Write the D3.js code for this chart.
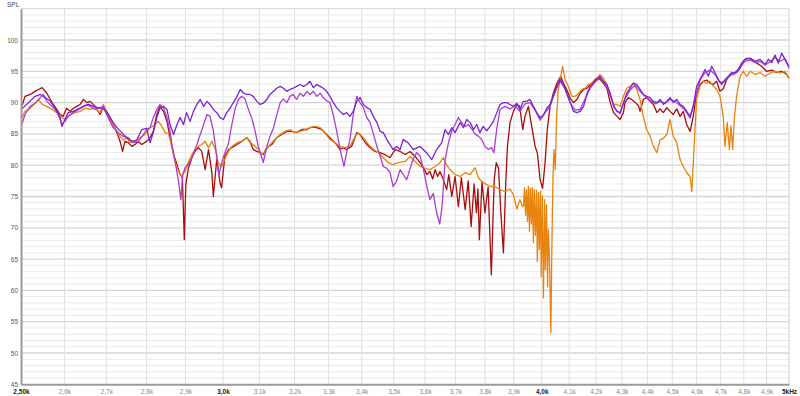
<!DOCTYPE html>
<html>
<head>
<meta charset="utf-8">
<script src="https://cdn.jsdelivr.net/npm/d3@7"></script>
<style>
  body { margin: 0; background: #fff; }
  svg { display: block; font-family: "Liberation Sans", Arial, sans-serif; }
</style>
</head>
<body>
<div id="chart"></div>
<script>
// ---- layout ----
const WIDTH = 800, HEIGHT = 396;
const PLOT_LEFT = 21, PLOT_RIGHT = 789, PLOT_TOP = 8.7, PLOT_BOTTOM = 384.3;

// ---- axes ----
const xTicks = [2500, 2600, 2700, 2800, 2900, 3000, 3100, 3200, 3300, 3400, 3500, 3600, 3700,
  3800, 3900, 4000, 4100, 4200, 4300, 4400, 4500, 4600, 4700, 4800, 4900, 5000];
const xTickLabels = ["2,50k", "2,6k", "2,7k", "2,8k", "2,9k", "3,0k", "3,1k", "3,2k", "3,3k", "3,4k",
  "3,5k", "3,6k", "3,7k", "3,8k", "3,9k", "4,0k", "4,1k", "4,2k", "4,3k", "4,4k", "4,5k", "4,6k",
  "4,7k", "4,8k", "4,9k", "5kHz"];
const xBoldTicks = [2500, 3000, 4000, 5000];
const yTicks = [45, 50, 55, 60, 65, 70, 75, 80, 85, 90, 95, 100];
const yTitle = "SPL";

// ---- data: [frequency Hz, SPL dB] ----
const redTrace = [
  [2502, 89.4], [2509, 91.0], [2521, 91.3], [2532, 91.8], [2540, 92.1], [2548, 92.4], [2559, 91.5],
  [2567, 90.5], [2574, 89.7], [2582, 88.9], [2590, 88.1], [2597, 87.8], [2605, 89.1], [2613, 88.6],
  [2621, 89.1], [2629, 89.4], [2637, 89.7], [2645, 90.5], [2653, 90.0], [2661, 90.2], [2673, 89.4],
  [2685, 88.1], [2693, 89.4], [2701, 88.6], [2709, 87.6], [2717, 86.5], [2726, 85.2], [2734, 83.8],
  [2740, 82.2], [2746, 83.8], [2754, 83.6], [2763, 83.0], [2771, 83.3], [2779, 83.8], [2788, 83.3],
  [2800, 83.8], [2809, 84.4], [2817, 85.4], [2826, 88.1], [2834, 89.4], [2843, 88.6], [2852, 87.0],
  [2860, 84.4], [2869, 81.7], [2878, 80.1], [2886, 78.5], [2892, 78.0], [2897, 68.1], [2901, 76.9],
  [2908, 79.6], [2917, 81.2], [2925, 82.2], [2934, 82.8], [2943, 82.2], [2952, 79.3], [2961, 82.5],
  [2970, 78.8], [2974, 75.0], [2983, 80.9], [2992, 77.2], [2996, 76.4], [3005, 81.4], [3015, 82.5],
  [3024, 82.8], [3038, 83.3], [3051, 83.8], [3065, 84.4], [3074, 83.8], [3083, 82.5], [3093, 82.2],
  [3102, 82.0], [3111, 81.7], [3121, 82.8], [3135, 83.3], [3149, 84.4], [3163, 84.9], [3178, 85.4],
  [3192, 85.4], [3206, 85.2], [3221, 85.7], [3236, 85.7], [3250, 86.1], [3265, 86.0], [3280, 85.7],
  [3294, 84.9], [3309, 84.1], [3324, 83.3], [3334, 82.5], [3344, 82.8], [3354, 82.5], [3369, 83.0],
  [3385, 85.2], [3395, 84.9], [3405, 84.1], [3416, 83.3], [3426, 82.8], [3441, 82.2], [3457, 82.0],
  [3472, 81.7], [3488, 81.2], [3504, 82.5], [3520, 82.2], [3536, 81.7], [3552, 82.2], [3568, 81.4],
  [3584, 80.4], [3595, 79.6], [3606, 78.5], [3616, 79.0], [3625, 77.8], [3633, 79.3], [3641, 78.2],
  [3649, 79.0], [3660, 77.7], [3671, 76.1], [3678, 78.5], [3688, 75.0], [3699, 78.2], [3710, 73.4],
  [3720, 78.0], [3733, 72.9], [3743, 77.5], [3753, 70.2], [3763, 77.0], [3771, 72.4], [3776, 76.2],
  [3781, 68.1], [3790, 77.4], [3800, 72.4], [3811, 76.5], [3822, 62.5], [3832, 77.7], [3839, 80.4],
  [3847, 79.5], [3855, 72.4], [3864, 66.0], [3872, 77.0], [3878, 83.0], [3887, 86.8], [3899, 88.6],
  [3911, 89.7], [3921, 89.4], [3932, 85.7], [3940, 87.8], [3952, 89.4], [3964, 86.2], [3976, 83.0],
  [3984, 82.0], [3994, 77.7], [4003, 76.3], [4012, 80.4], [4020, 85.7], [4030, 89.4], [4042, 91.5],
  [4055, 93.1], [4069, 94.2], [4079, 93.1], [4091, 92.1], [4103, 90.8], [4116, 90.0], [4129, 90.5],
  [4141, 91.5], [4154, 92.1], [4167, 92.3], [4179, 92.9], [4192, 93.4], [4203, 93.9], [4216, 93.7],
  [4229, 93.1], [4242, 92.3], [4255, 90.0], [4268, 88.4], [4281, 87.8], [4293, 87.3], [4306, 88.4],
  [4312, 90.0], [4325, 90.8], [4338, 90.5], [4352, 90.0], [4365, 89.5], [4371, 88.6], [4384, 90.5],
  [4397, 90.8], [4411, 90.2], [4424, 89.7], [4438, 88.4], [4451, 89.0], [4464, 88.4], [4478, 89.2],
  [4491, 88.6], [4504, 88.1], [4518, 89.0], [4532, 87.8], [4545, 88.6], [4559, 86.5], [4573, 85.4],
  [4586, 87.8], [4600, 91.5], [4614, 92.9], [4628, 93.4], [4642, 93.6], [4656, 93.1], [4670, 92.9],
  [4684, 93.4], [4698, 91.8], [4712, 92.2], [4727, 93.7], [4741, 94.5], [4755, 94.8], [4769, 94.8],
  [4784, 95.5], [4798, 96.6], [4813, 97.1], [4835, 96.9], [4857, 96.3], [4878, 95.8], [4900, 95.0],
  [4923, 95.2], [4945, 94.8], [4967, 95.0], [4990, 94.5], [5000, 93.9]
];

const orangeTrace = [
  [2502, 87.6], [2509, 88.6], [2521, 89.1], [2532, 89.9], [2540, 90.5], [2548, 89.7], [2559, 89.4],
  [2571, 88.9], [2582, 88.4], [2594, 87.6], [2601, 87.3], [2613, 88.1], [2625, 88.4], [2637, 88.6],
  [2649, 89.1], [2661, 88.9], [2673, 89.1], [2685, 88.4], [2693, 89.7], [2701, 88.4], [2709, 87.3],
  [2717, 86.5], [2726, 85.4], [2734, 84.6], [2742, 84.0], [2750, 84.4], [2759, 83.6], [2771, 83.8],
  [2783, 84.4], [2796, 84.9], [2809, 86.0], [2822, 86.5], [2830, 87.0], [2839, 86.2], [2847, 85.2],
  [2856, 85.0], [2865, 82.8], [2873, 80.6], [2882, 79.0], [2890, 78.2], [2899, 79.0], [2908, 80.6],
  [2917, 81.7], [2925, 82.5], [2934, 83.0], [2943, 83.3], [2952, 83.8], [2961, 82.8], [2970, 83.8],
  [2979, 82.6], [2987, 80.4], [2996, 79.8], [3005, 81.0], [3015, 82.2], [3024, 83.0], [3038, 83.6],
  [3051, 83.8], [3065, 84.4], [3074, 83.6], [3083, 83.3], [3097, 82.5], [3107, 81.7], [3116, 82.2],
  [3130, 83.3], [3144, 84.1], [3159, 84.9], [3173, 85.4], [3187, 85.7], [3201, 85.2], [3216, 85.4],
  [3231, 85.7], [3245, 86.0], [3260, 86.2], [3275, 86.0], [3289, 85.2], [3304, 84.1], [3319, 83.6],
  [3334, 83.0], [3349, 82.8], [3364, 83.0], [3380, 84.6], [3390, 85.2], [3405, 84.4], [3421, 83.3],
  [3436, 82.5], [3452, 82.0], [3467, 81.2], [3483, 80.4], [3498, 80.1], [3514, 80.4], [3536, 80.6],
  [3552, 81.4], [3568, 80.6], [3584, 79.8], [3600, 79.5], [3616, 79.3], [3633, 79.8], [3649, 80.4],
  [3660, 81.2], [3671, 80.0], [3682, 79.3], [3699, 78.5], [3716, 78.2], [3733, 78.8], [3750, 78.5],
  [3766, 79.6], [3778, 78.0], [3789, 77.4], [3806, 76.9], [3818, 76.6], [3835, 76.6], [3852, 76.1],
  [3870, 75.8], [3887, 76.2], [3899, 75.3], [3911, 73.0], [3922, 74.5], [3931, 73.4],
  [3935, 73.5], [3938, 76.4], [3942, 72.0], [3945, 76.1], [3949, 71.0], [3952, 76.6], [3956, 69.4],
  [3959, 76.3], [3963, 70.6], [3966, 76.4], [3970, 67.6], [3973, 76.1], [3977, 68.8], [3981, 76.0],
  [3984, 64.6], [3988, 75.6], [3991, 66.5], [3995, 75.8], [3998, 62.2], [4002, 75.1], [4006, 58.8],
  [4010, 74.5], [4013, 63.3], [4017, 73.7], [4021, 60.6], [4024, 69.7], [4028, 64.9], [4033, 53.2],
  [4037, 68.1], [4041, 78.5], [4044, 82.5], [4049, 79.3], [4054, 87.8],
  [4060, 92.0], [4067, 93.7], [4076, 95.8], [4085, 93.7], [4097, 92.6], [4110, 91.0], [4122, 91.0],
  [4135, 91.5], [4147, 92.1], [4160, 92.3], [4172, 92.9], [4184, 93.0], [4197, 93.4], [4216, 94.5],
  [4229, 93.9], [4242, 92.9], [4255, 91.0], [4268, 89.7], [4281, 89.7], [4293, 89.4], [4306, 91.0],
  [4319, 92.3], [4332, 92.6], [4345, 93.1], [4358, 92.1], [4371, 90.5], [4384, 87.8], [4397, 85.7],
  [4411, 84.6], [4424, 83.0], [4438, 82.0], [4451, 84.1], [4464, 84.3], [4478, 84.9], [4491, 87.3],
  [4504, 84.6], [4518, 83.6], [4532, 80.9], [4545, 79.8], [4559, 78.8], [4573, 78.2], [4580, 75.8],
  [4589, 82.5], [4600, 90.5], [4614, 92.6], [4628, 93.4], [4642, 93.1], [4656, 93.4], [4670, 92.6],
  [4684, 92.1], [4698, 91.0], [4712, 87.8], [4719, 83.0], [4729, 86.8], [4738, 82.5], [4745, 86.3],
  [4752, 82.5], [4759, 87.3], [4769, 91.0], [4784, 94.2], [4798, 95.0], [4813, 94.2], [4828, 95.0],
  [4850, 94.5], [4871, 94.8], [4893, 94.2], [4915, 94.7], [4937, 95.0], [4960, 94.7], [4982, 95.0],
  [5000, 93.9]
];

const violetTrace = [
  [2502, 89.0], [2517, 90.0], [2532, 91.0], [2544, 91.3], [2555, 90.8], [2567, 90.2], [2578, 89.1],
  [2590, 87.6], [2594, 86.2], [2601, 87.3], [2609, 88.4], [2621, 88.6], [2633, 89.0], [2645, 89.4],
  [2657, 89.7], [2669, 89.4], [2681, 89.2], [2693, 89.0], [2705, 88.1], [2717, 86.8], [2726, 86.0],
  [2738, 85.2], [2750, 84.4], [2763, 83.8], [2775, 84.0], [2788, 85.7], [2800, 85.9], [2809, 83.6],
  [2817, 85.2], [2826, 87.6], [2834, 89.1], [2843, 89.4], [2852, 88.9], [2860, 86.5], [2869, 84.9],
  [2878, 86.5], [2886, 87.6], [2895, 86.5], [2903, 88.4], [2912, 87.0], [2921, 88.6], [2930, 89.7],
  [2939, 90.5], [2948, 89.4], [2957, 90.2], [2965, 89.7], [2974, 88.9], [2983, 88.4], [2992, 87.6],
  [3001, 87.3], [3010, 88.4], [3019, 89.1], [3028, 90.0], [3038, 91.0], [3047, 92.1], [3056, 91.5],
  [3065, 91.3], [3074, 91.3], [3083, 91.0], [3093, 90.2], [3102, 89.7], [3111, 89.9], [3121, 90.5],
  [3130, 91.3], [3140, 91.8], [3149, 92.3], [3159, 92.6], [3168, 92.3], [3178, 91.8], [3187, 92.1],
  [3196, 92.3], [3206, 92.6], [3216, 92.9], [3226, 92.6], [3236, 92.9], [3245, 93.4], [3255, 92.4],
  [3265, 92.9], [3275, 92.6], [3284, 92.3], [3294, 91.8], [3304, 91.0], [3314, 90.0], [3324, 89.2],
  [3334, 88.6], [3344, 88.1], [3354, 88.4], [3364, 87.8], [3374, 88.6], [3385, 90.2], [3395, 90.8],
  [3405, 89.7], [3416, 89.2], [3426, 88.9], [3436, 87.8], [3447, 86.8], [3457, 85.4], [3467, 85.2],
  [3478, 84.1], [3488, 83.3], [3498, 82.5], [3509, 83.0], [3520, 82.5], [3530, 84.1], [3545, 83.6],
  [3562, 82.5], [3584, 83.0], [3605, 82.0], [3622, 80.9], [3638, 82.5], [3655, 83.6], [3666, 85.7],
  [3677, 84.9], [3688, 86.0], [3699, 85.2], [3716, 86.8], [3727, 86.0], [3738, 87.3], [3750, 86.8],
  [3761, 85.7], [3772, 86.5], [3783, 85.2], [3794, 86.2], [3806, 85.5], [3818, 86.2], [3829, 87.0],
  [3841, 88.4], [3852, 89.7], [3864, 90.0], [3876, 90.0], [3887, 89.7], [3899, 89.4], [3911, 89.9],
  [3922, 88.9], [3934, 90.2], [3946, 90.2], [3958, 90.5], [3970, 89.4], [3982, 88.4], [3994, 87.6],
  [4006, 88.0], [4018, 89.1], [4030, 89.7], [4042, 91.0], [4055, 92.6], [4067, 93.7], [4079, 92.9],
  [4091, 91.5], [4103, 90.2], [4116, 88.6], [4129, 88.4], [4141, 88.6], [4154, 89.4], [4167, 91.5],
  [4179, 92.6], [4192, 93.1], [4203, 93.7], [4216, 94.2], [4229, 93.4], [4242, 92.9], [4255, 91.5],
  [4268, 89.4], [4281, 88.6], [4293, 88.4], [4306, 90.0], [4319, 91.5], [4332, 92.3], [4345, 93.1],
  [4358, 92.9], [4371, 92.1], [4384, 91.3], [4397, 91.0], [4411, 90.8], [4424, 90.2], [4438, 90.0],
  [4451, 90.5], [4464, 89.7], [4478, 90.2], [4491, 90.8], [4504, 90.0], [4518, 90.5], [4532, 89.7],
  [4545, 89.4], [4559, 88.6], [4573, 87.8], [4586, 89.4], [4600, 92.6], [4621, 94.2], [4635, 95.3],
  [4649, 94.2], [4663, 95.8], [4677, 94.8], [4691, 93.7], [4705, 92.9], [4720, 93.7], [4734, 94.2],
  [4748, 94.8], [4762, 94.8], [4776, 95.3], [4791, 96.3], [4805, 96.9], [4827, 97.1], [4849, 96.6],
  [4871, 96.9], [4893, 96.1], [4908, 96.9], [4923, 96.4], [4937, 97.6], [4952, 96.3], [4967, 97.9],
  [4982, 96.9], [5000, 95.8]
];

const magentaTrace = [
  [2502, 86.5], [2509, 88.1], [2521, 89.4], [2532, 89.9], [2544, 90.8], [2551, 91.3], [2559, 90.2],
  [2571, 89.4], [2582, 88.6], [2590, 87.3], [2594, 86.5], [2601, 87.0], [2609, 87.8], [2621, 88.4],
  [2633, 88.9], [2645, 89.4], [2653, 89.7], [2661, 89.4], [2673, 88.9], [2685, 89.2], [2693, 89.4],
  [2701, 88.1], [2709, 87.0], [2717, 86.0], [2730, 85.2], [2742, 84.6], [2754, 84.4], [2767, 83.6],
  [2779, 83.8], [2792, 84.9], [2800, 85.7], [2809, 86.0], [2817, 87.6], [2826, 88.9], [2834, 89.7],
  [2843, 89.2], [2852, 87.6], [2860, 85.4], [2865, 83.3], [2873, 80.6], [2882, 77.4], [2888, 74.5],
  [2893, 78.5], [2899, 79.6], [2908, 80.2], [2917, 81.2], [2930, 83.3], [2939, 84.9], [2948, 86.5],
  [2957, 88.1], [2965, 87.8], [2974, 85.5], [2983, 81.5], [2989, 78.5], [2997, 80.5], [3005, 82.0],
  [3015, 83.5], [3024, 86.5], [3033, 89.0], [3042, 90.5], [3051, 91.0], [3060, 90.6], [3069, 89.0],
  [3079, 87.5], [3088, 85.5], [3097, 83.0], [3107, 81.2], [3111, 80.4], [3121, 83.0], [3130, 84.6],
  [3140, 86.0], [3149, 88.0], [3159, 90.0], [3168, 90.6], [3178, 90.0], [3187, 91.0], [3196, 91.3],
  [3206, 90.5], [3216, 91.5], [3226, 91.0], [3236, 91.8], [3245, 91.3], [3255, 91.8], [3265, 91.0],
  [3275, 91.5], [3284, 90.8], [3294, 90.3], [3304, 90.0], [3314, 88.0], [3324, 85.5], [3334, 82.7],
  [3346, 79.8], [3354, 82.0], [3364, 84.0], [3374, 88.0], [3385, 91.0], [3395, 90.0], [3405, 89.2],
  [3416, 87.6], [3426, 86.8], [3436, 85.0], [3447, 83.0], [3457, 81.5], [3467, 79.8], [3478, 79.5],
  [3488, 78.8], [3498, 76.6], [3509, 77.5], [3520, 79.3], [3530, 78.5], [3541, 77.7], [3552, 79.5],
  [3562, 81.0], [3573, 82.0], [3584, 81.5], [3595, 79.3], [3606, 76.6], [3616, 74.5], [3627, 75.5],
  [3638, 72.4], [3648, 70.6], [3656, 73.5], [3666, 80.9], [3677, 83.6], [3688, 85.5], [3699, 86.5],
  [3710, 87.6], [3721, 86.8], [3733, 86.2], [3744, 86.5], [3755, 85.8], [3766, 85.0], [3778, 84.6],
  [3789, 84.1], [3800, 83.0], [3812, 82.5], [3823, 82.8], [3831, 82.0], [3841, 85.9], [3852, 88.9],
  [3870, 89.4], [3887, 89.0], [3904, 89.5], [3922, 88.6], [3940, 89.8], [3958, 90.0], [3976, 88.8],
  [3994, 87.2], [4012, 88.4], [4030, 89.4], [4049, 91.8], [4067, 93.4], [4085, 92.2], [4103, 90.0],
  [4122, 88.8], [4141, 88.9], [4160, 90.6], [4179, 92.3], [4197, 93.3], [4216, 93.9], [4235, 93.0],
  [4255, 91.2], [4274, 89.0], [4293, 88.2], [4312, 90.6], [4332, 92.0], [4352, 92.8], [4371, 91.8],
  [4391, 91.0], [4411, 90.4], [4431, 89.8], [4451, 90.2], [4471, 89.9], [4491, 90.5], [4511, 90.2],
  [4532, 89.5], [4552, 88.8], [4573, 87.5], [4593, 90.5], [4614, 93.6], [4635, 94.8], [4656, 95.2],
  [4677, 94.5], [4698, 93.2], [4720, 93.4], [4741, 94.3], [4762, 94.6], [4784, 95.6], [4805, 96.6],
  [4827, 96.8], [4849, 96.4], [4871, 96.6], [4893, 96.0], [4915, 96.5], [4937, 97.2], [4960, 96.6],
  [4982, 97.0], [5000, 95.5]
];

// drawing order: first drawn is underneath
const traces = [
  { name: "rojo", data: redTrace, color: "#a80c0c" },
  { name: "naranja", data: orangeTrace, color: "#e8830f" },
  { name: "magenta", data: magentaTrace, color: "#a93fd0" },
  { name: "violeta", data: violetTrace, color: "#7b22d8" }
];

// ---- svg ----
const svg = d3.select("#chart")
  .append("svg")
  .attr("width", WIDTH)
  .attr("height", HEIGHT)
  .attr("viewBox", `0 0 ${WIDTH} ${HEIGHT}`)
  .style("background-color", "#fff");

const x = d3.scaleLog()
  .domain([2500, 5000])
  .range([PLOT_LEFT, PLOT_RIGHT]);

const y = d3.scaleLinear()
  .domain([45, 105])
  .range([PLOT_BOTTOM, PLOT_TOP]);

// grid: minor 1 dB lines, major every 5 dB, vertical every 100 Hz
const grid = svg.append("g");
grid.selectAll("line.minor")
  .data(d3.range(46, 105))
  .enter().append("line")
  .attr("x1", PLOT_LEFT).attr("x2", PLOT_RIGHT)
  .attr("y1", d => y(d)).attr("y2", d => y(d))
  .attr("stroke", d => d % 5 === 0 ? "#d4d4d4" : "#eaeaea")
  .attr("stroke-width", d => d % 5 === 0 ? 1.3 : 1);

grid.selectAll("line.vert")
  .data(xTicks.slice(1, -1))
  .enter().append("line")
  .attr("x1", d => x(d)).attr("x2", d => x(d))
  .attr("y1", PLOT_TOP).attr("y2", PLOT_BOTTOM)
  .attr("stroke", "#e0e0e0")
  .attr("stroke-width", 1);

// frame
svg.append("line")
  .attr("x1", PLOT_LEFT).attr("x2", PLOT_RIGHT)
  .attr("y1", PLOT_TOP).attr("y2", PLOT_TOP)
  .attr("stroke", "#d4d4d4");
svg.append("line")
  .attr("x1", PLOT_RIGHT).attr("x2", PLOT_RIGHT)
  .attr("y1", PLOT_TOP).attr("y2", PLOT_BOTTOM)
  .attr("stroke", "#cfcfcf");

// ---- traces ----
const line = d3.line()
  .x(d => x(d[0]))
  .y(d => y(d[1]));

const plot = svg.append("g");
traces.forEach(t => {
  plot.append("path")
    .datum(t.data)
    .attr("fill", "none")
    .attr("stroke", t.color)
    .attr("stroke-width", 1.3)
    .attr("stroke-linejoin", "round")
    .attr("d", line);
});

// ---- axes ----
const xAxis = d3.axisBottom(x)
  .tickValues(xTicks)
  .tickFormat((d, i) => xTickLabels[i])
  .tickSize(0)
  .tickPadding(5);

const gx = svg.append("g")
  .attr("transform", `translate(0,${PLOT_BOTTOM})`)
  .call(xAxis);
gx.select(".domain").attr("stroke", "#9a9a9a").attr("stroke-width", 2);
gx.selectAll("text")
  .attr("font-size", 6.5)
  .attr("font-family", "'Liberation Sans', Arial, sans-serif")
  .attr("font-weight", d => xBoldTicks.includes(d) ? "bold" : "normal")
  .attr("fill", d => xBoldTicks.includes(d) ? "#222" : "#8a8a8a");

const yAxis = d3.axisLeft(y)
  .tickValues(yTicks)
  .tickSize(0)
  .tickPadding(3);

const gy = svg.append("g")
  .attr("transform", `translate(${PLOT_LEFT},0)`)
  .call(yAxis);
gy.select(".domain").attr("stroke", "#9a9a9a").attr("stroke-width", 2);
gy.selectAll("text")
  .attr("font-size", 6.5)
  .attr("font-family", "'Liberation Sans', Arial, sans-serif")
  .attr("fill", "#555");

svg.append("text")
  .attr("x", 7)
  .attr("y", 7)
  .attr("font-size", 6.5)
  .attr("fill", "#444")
  .text(yTitle);
</script>
</body>
</html>
